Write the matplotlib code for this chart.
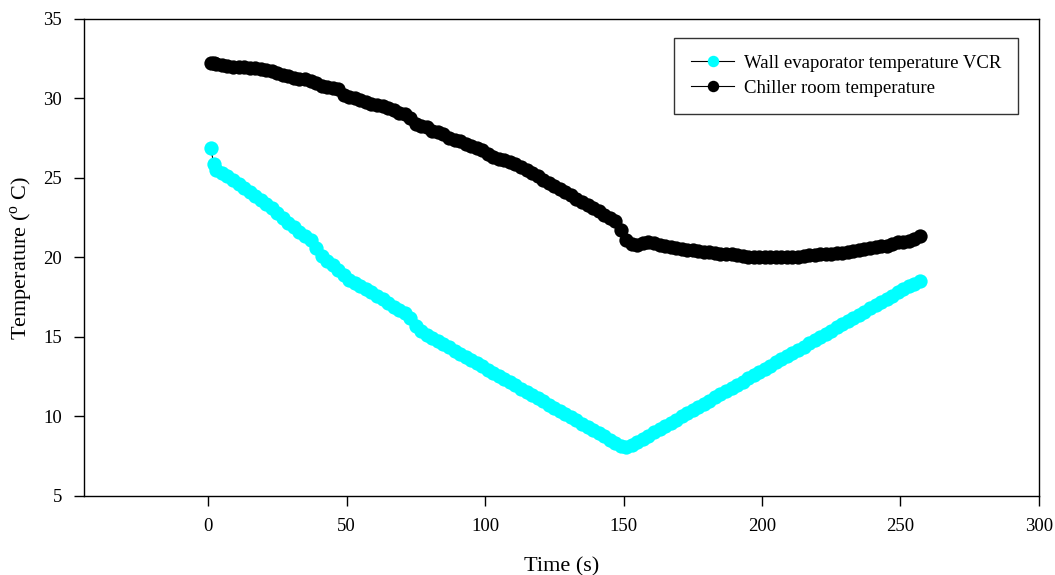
import matplotlib
matplotlib.use("Agg")
import matplotlib.pyplot as plt

# time (s)
time_s = [1, 2, 3, 5, 7, 9, 11, 13, 15, 17,
          19, 21, 23, 25, 27, 29, 31, 33, 35, 37,
          39, 41, 43, 45, 47, 49, 51, 53, 55, 57,
          59, 61, 63, 65, 67, 69, 71, 73, 75, 77,
          79, 81, 83, 85, 87, 89, 91, 93, 95, 97,
          99, 101, 103, 105, 107, 109, 111, 113, 115, 117,
          119, 121, 123, 125, 127, 129, 131, 133, 135, 137,
          139, 141, 143, 145, 147, 149, 151, 153, 155, 157,
          159, 161, 163, 165, 167, 169, 171, 173, 175, 177,
          179, 181, 183, 185, 187, 189, 191, 193, 195, 197,
          199, 201, 203, 205, 207, 209, 211, 213, 215, 217,
          219, 221, 223, 225, 227, 229, 231, 233, 235, 237,
          239, 241, 243, 245, 247, 249, 251, 253, 255, 257]

# wall evaporator temperature VCR (deg C)
wall_evap = [26.9, 25.9, 25.5, 25.3, 25.1, 24.85, 24.6, 24.35, 24.1, 23.85,
             23.6, 23.35, 23.1, 22.8, 22.5, 22.2, 21.9, 21.6, 21.35, 21.1,
             20.6, 20.1, 19.8, 19.5, 19.2, 18.9, 18.6, 18.4, 18.2, 18.0,
             17.8, 17.6, 17.4, 17.15, 16.9, 16.7, 16.5, 16.2, 15.7, 15.35,
             15.15, 14.95, 14.75, 14.55, 14.35, 14.15, 13.95, 13.75, 13.55, 13.35,
             13.15, 12.95, 12.75, 12.55, 12.35, 12.15, 11.95, 11.75, 11.55, 11.35,
             11.15, 10.95, 10.75, 10.55, 10.35, 10.15, 9.95, 9.75, 9.55, 9.35,
             9.15, 8.95, 8.75, 8.55, 8.35, 8.15, 8.1, 8.2, 8.4, 8.6,
             8.8, 9.0, 9.2, 9.4, 9.6, 9.8, 10.0, 10.2, 10.4, 10.6,
             10.8, 11.0, 11.2, 11.4, 11.6, 11.8, 12.0, 12.2, 12.4, 12.6,
             12.8, 13.0, 13.2, 13.4, 13.6, 13.8, 14.0, 14.2, 14.4, 14.6,
             14.8, 15.0, 15.2, 15.4, 15.6, 15.8, 16.0, 16.2, 16.4, 16.6,
             16.8, 17.0, 17.2, 17.4, 17.6, 17.8, 18.0, 18.2, 18.35, 18.5]

# chiller room temperature (deg C)
chiller_room = [32.2, 32.2, 32.15, 32.1, 32.05, 32.0, 32.0, 31.95, 31.9, 31.9,
                31.85, 31.8, 31.7, 31.6, 31.5, 31.4, 31.3, 31.25, 31.2, 31.1,
                30.95, 30.8, 30.7, 30.65, 30.6, 30.25, 30.1, 30.0, 29.9, 29.8,
                29.65, 29.6, 29.5, 29.4, 29.25, 29.1, 29.0, 28.8, 28.4, 28.25,
                28.2, 27.95, 27.9, 27.75, 27.5, 27.4, 27.3, 27.15, 27.0, 26.9,
                26.75, 26.5, 26.35, 26.2, 26.1, 26.0, 25.9, 25.7, 25.5, 25.3,
                25.1, 24.9, 24.7, 24.5, 24.3, 24.1, 23.9, 23.7, 23.5, 23.3,
                23.1, 22.9, 22.7, 22.5, 22.3, 21.7, 21.1, 20.85, 20.8, 20.9,
                20.95, 20.9, 20.8, 20.7, 20.65, 20.6, 20.55, 20.5, 20.45, 20.4,
                20.35, 20.35, 20.3, 20.25, 20.25, 20.2, 20.15, 20.1, 20.05, 20.05,
                20.0, 20.0, 20.0, 20.0, 20.0, 20.0, 20.0, 20.05, 20.1, 20.15,
                20.15, 20.2, 20.25, 20.25, 20.3, 20.3, 20.35, 20.4, 20.5, 20.55,
                20.6, 20.65, 20.7, 20.75, 20.85, 20.95, 21.0, 21.05, 21.15, 21.35]

plt.rcParams['font.family'] = ['Liberation Serif', 'DejaVu Serif']
plt.rcParams['mathtext.fontset'] = 'custom'
plt.rcParams['mathtext.rm'] = 'Liberation Serif'

fig = plt.figure(figsize=(10.55, 5.75), dpi=100)
ax = fig.add_axes([0.0796, 0.1374, 0.9052, 0.8296])

ax.plot(time_s, wall_evap, color='black', lw=0.8, marker='o', ms=10.3, mew=0,
        markerfacecolor='#00FFFF', label='Wall evaporator temperature VCR')
ax.plot(time_s, chiller_room, color='black', lw=0.8, marker='o', ms=10.3, mew=0,
        markerfacecolor='black', label='Chiller room temperature')

ax.set_xlim(-44.8, 300)
ax.set_ylim(5, 35)
ax.set_xticks([0, 50, 100, 150, 200, 250, 300])
ax.set_yticks([5, 10, 15, 20, 25, 30, 35])

for s in ax.spines.values():
    s.set_linewidth(1.0)
    s.set_color('black')
ax.tick_params(axis='x', direction='out', length=7, width=1, labelsize=13.5, pad=9, top=False)
ax.tick_params(axis='y', direction='out', length=7, width=1, labelsize=13.5, pad=9, right=False)

ax.set_xlabel('Time (s)', fontsize=16, labelpad=15.5)
ax.set_ylabel(r'Temperature ($^\mathrm{o}$ C)', fontsize=16, labelpad=6)

leg = ax.legend(loc='upper right', bbox_to_anchor=(0.978, 0.960), borderaxespad=0,
                fontsize=13.5, fancybox=False, framealpha=1, edgecolor='#333333',
                handlelength=2.3, handletextpad=0.5, labelspacing=0.4,
                borderpad=0.9, markerscale=0.8)
leg.get_frame().set_linewidth(1.0)

fig.savefig('out.png', dpi=100)
